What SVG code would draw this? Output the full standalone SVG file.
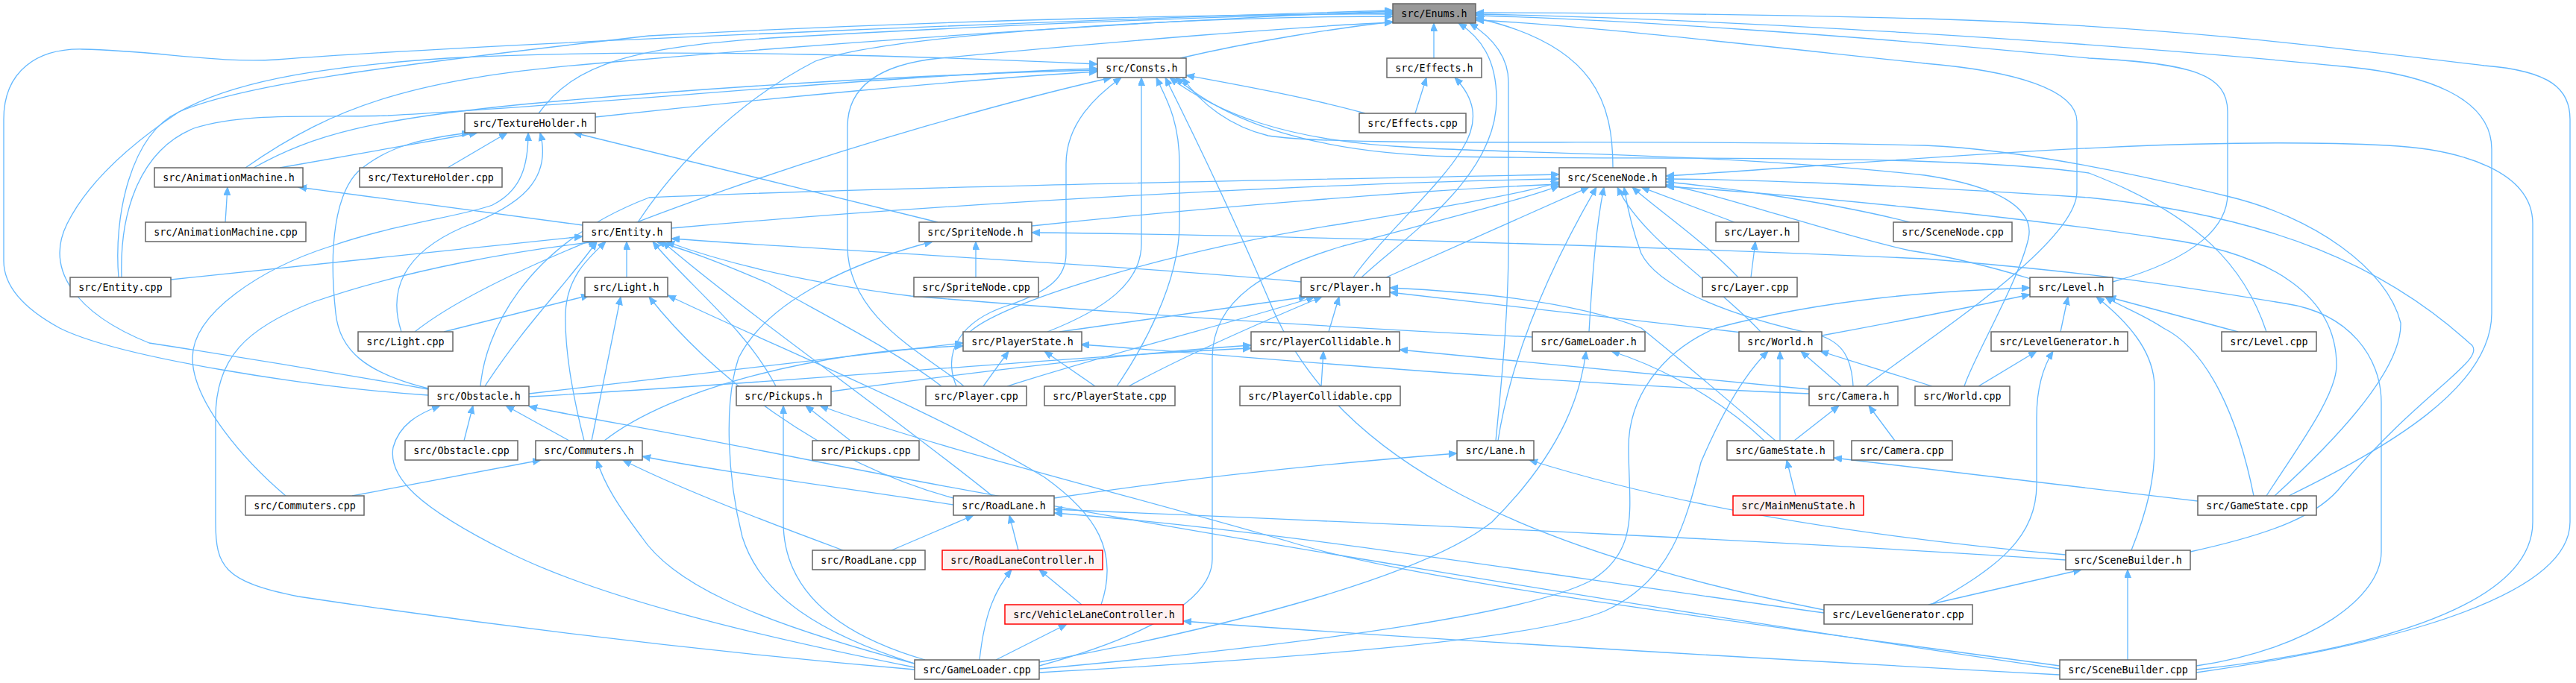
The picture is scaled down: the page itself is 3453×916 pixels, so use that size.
<svg xmlns="http://www.w3.org/2000/svg" width="3453" height="916" viewBox="0 0 3453 916">
<style>
.e path{fill:none;stroke:#63b8ff;stroke-width:1.3;marker-end:url(#ah)}
.n rect{fill:#ffffff;stroke:#666666;stroke-width:1.5}
.n.root rect{fill:#999999;stroke:#666666}
.n.red rect{fill:#fff0f0;stroke:#ff0000}
.n text{font-family:"DejaVu Sans Mono","Liberation Mono",monospace;font-size:13.33px;fill:#000000;text-anchor:middle}
</style>
<defs>
<marker id="ah" markerWidth="12" markerHeight="10" refX="11" refY="4.5" orient="auto" markerUnits="userSpaceOnUse">
<path d="M0,0 L11,4.5 L0,9 z" fill="#63b8ff" stroke="#63b8ff" stroke-width="1"/>
</marker>
</defs>
<rect width="3453" height="916" fill="#ffffff"/>
<g id="edges" class="e">
<path d="M1582,78 C1680,55 1790,38 1867,29"/>
<path d="M1922,78 L1922,31"/>
<path d="M722,152 C770,85 850,62 1050,50 C1400,30 1700,20 1867,17"/>
<path d="M329,225 C450,140 560,105 800,85 C1200,50 1600,25 1867,15"/>
<path d="M159,372 C152,290 175,180 240,150 C320,115 500,90 870,48 C1300,25 1700,18 1867,19"/>
<path d="M163,372 C160,280 190,200 260,172 C330,150 420,158 520,155 C800,140 1200,100 1471,92"/>
<path d="M574,530 C420,520 160,480 80,440 C25,410 5,380 5,350 L5,160 C5,95 50,65 110,66 C210,68 290,85 370,80 C700,55 1500,25 1867,14"/>
<path d="M574,522 C450,500 330,480 200,460 C100,420 60,360 90,300 C120,240 180,190 240,150 C320,105 450,88 600,78 C900,62 1300,78 1471,86"/>
<path d="M855,298 C900,230 980,140 1093,82 C1200,45 1600,22 1867,22"/>
<path d="M1292,518 C1250,480 1136,430 1136,330 L1136,170 C1136,110 1190,85 1260,78 C1500,55 1750,35 1867,30"/>
<path d="M1825,372 C1880,320 2006,240 2006,133 C2006,80 1985,50 1955,31"/>
<path d="M2005,591 C2012,520 2022,420 2022,330 L2022,110 C2022,75 2000,50 1970,31"/>
<path d="M2162,225 C2162,140 2140,60 1978,24"/>
<path d="M2832,378 C2950,345 2986,300 2986,260 L2986,150 C2986,100 2940,85 2800,78 C2500,48 2150,25 1978,21"/>
<path d="M2501,518 C2560,470 2784,330 2784,257 L2784,163 C2784,120 2700,95 2580,85 C2300,55 2100,32 1978,27"/>
<path d="M2944,902 C3100,880 3445,820 3445,700 L3445,160 C3445,120 3420,95 3330,88 C3100,60 2900,35 2580,25 C2300,18 2100,17 1978,17"/>
<path d="M3068,665 C3200,600 3340,520 3340,420 L3340,200 C3340,130 3250,100 3150,90 C2800,55 2300,25 1978,19"/>
<path d="M798,157 C1000,135 1300,106 1471,96"/>
<path d="M340,225 C420,180 500,160 700,140 C1000,112 1300,98 1471,94"/>
<path d="M556,445 C700,330 1200,170 1490,104"/>
<path d="M1404,445 C1480,415 1530,380 1530,327 L1530,104"/>
<path d="M1282,518 C1262,470 1290,430 1350,410 C1410,390 1429,370 1429,340 L1429,220 C1429,165 1470,128 1503,104"/>
<path d="M1497,518 C1530,470 1581,380 1581,300 L1581,220 C1581,160 1562,130 1550,104"/>
<path d="M1830,152 C1750,130 1650,112 1590,101"/>
<path d="M3038,445 C3010,360 2950,290 2800,232 C2600,205 2200,215 1950,210 C1750,205 1640,160 1576,104"/>
<path d="M2633,518 C2645,480 2705,380 2719,320 C2728,280 2680,250 2580,235 C2300,205 2000,205 1900,198 C1720,190 1630,150 1568,104"/>
<path d="M3049,665 C3120,600 3220,500 3218,433 C3200,360 3100,290 2985,263 C2850,230 2700,200 2580,195 C2200,185 1800,198 1700,182 C1650,170 1610,140 1585,104"/>
<path d="M2445,818 C2000,730 1780,600 1700,400 C1640,260 1590,160 1562,104"/>
<path d="M1897,152 L1912,104"/>
<path d="M1814,372 C1850,320 1930,250 1960,200 C1985,160 1975,130 1950,104"/>
<path d="M375,225 L640,178"/>
<path d="M600,225 L680,178"/>
<path d="M1257,298 L769,178"/>
<path d="M538,445 C520,390 540,340 620,305 C700,275 740,240 724,178"/>
<path d="M383,665 C330,620 258,540 258,480 C258,420 350,360 444,330 C530,300 620,290 660,275 C700,255 708,220 708,178"/>
<path d="M574,521 C490,500 455,470 450,420 C440,330 450,260 480,230 C520,195 570,185 630,178"/>
<path d="M302,298 L305,251"/>
<path d="M781,302 L400,251"/>
<path d="M900,306 C1300,270 1800,245 2090,240"/>
<path d="M1383,303 C1600,280 1900,255 2090,247"/>
<path d="M644,518 C650,450 700,330 870,265 C1200,250 1800,240 2090,234"/>
<path d="M1858,372 L2130,251"/>
<path d="M2008,591 C2030,450 2100,320 2140,251"/>
<path d="M2130,445 C2135,360 2140,300 2150,251"/>
<path d="M2360,445 C2300,380 2200,320 2168,251"/>
<path d="M2484,518 C2482,480 2470,460 2440,450 C2300,420 2220,380 2200,340 C2185,300 2180,270 2177,251"/>
<path d="M2325,298 L2200,251"/>
<path d="M2330,372 C2280,320 2220,280 2188,251"/>
<path d="M2347,372 L2353,324"/>
<path d="M2560,298 C2450,270 2300,250 2233,244"/>
<path d="M2722,374 C2650,352 2600,342 2560,336 C2450,312 2300,258 2233,248"/>
<path d="M3038,665 C3080,600 3132,530 3132,490 C3132,400 3050,340 2900,320 C2700,290 2400,260 2233,250"/>
<path d="M2936,740 C3050,715 3110,690 3140,650 C3250,520 3340,480 3310,460 C3200,360 3050,290 2800,265 C2500,245 2300,240 2233,240"/>
<path d="M2944,898 C3150,875 3395,820 3395,700 L3395,300 C3395,230 3300,200 3200,195 C2900,180 2500,220 2233,236"/>
<path d="M1393,893 C1550,850 1625,800 1625,750 L1625,480 C1625,400 1700,360 1800,330 C1950,290 2050,265 2090,249"/>
<path d="M1300,445 C1350,400 1600,330 1800,300 C1950,275 2050,258 2090,244"/>
<path d="M229,375 L781,317"/>
<path d="M840,372 L840,324"/>
<path d="M1744,378 C1500,355 1100,335 900,320"/>
<path d="M650,518 C700,440 760,380 800,324"/>
<path d="M783,591 C765,520 757,460 758,420 C760,370 790,345 812,324"/>
<path d="M1040,518 C1000,440 920,380 875,324"/>
<path d="M1330,665 C1200,560 1000,420 888,324"/>
<path d="M2054,452 C1800,440 1500,420 1221,397 C1050,375 950,345 893,324"/>
<path d="M1262,518 C1200,470 1100,420 1030,380 C960,350 920,335 880,324"/>
<path d="M1226,898 C900,870 600,830 400,800 C300,780 289,760 289,700 L289,560 C289,480 330,440 420,405 C550,360 700,335 800,324"/>
<path d="M595,445 L790,396"/>
<path d="M793,591 L832,398"/>
<path d="M1476,811 C1500,740 1470,690 1400,640 C1250,550 1050,470 895,396"/>
<path d="M1278,668 C1100,620 950,500 870,398"/>
<path d="M1420,445 L1752,398"/>
<path d="M1781,445 L1795,398"/>
<path d="M1350,518 C1500,470 1700,420 1762,398"/>
<path d="M1513,518 C1600,470 1720,420 1772,398"/>
<path d="M2335,446 L1863,392"/>
<path d="M2380,591 C2320,540 2250,480 2200,440 C2100,400 1950,390 1863,386"/>
<path d="M1318,518 L1352,471"/>
<path d="M1468,518 L1400,471"/>
<path d="M709,528 C950,500 1150,475 1291,460"/>
<path d="M810,591 C900,520 1100,470 1291,464"/>
<path d="M2425,528 C2000,510 1700,480 1449,462"/>
<path d="M1771,518 L1774,471"/>
<path d="M709,532 C1100,510 1400,480 1677,467"/>
<path d="M1114,525 C1300,500 1500,475 1677,463"/>
<path d="M2425,522 C2200,500 2000,480 1876,469"/>
<path d="M2365,591 C2300,530 2220,490 2160,471"/>
<path d="M1393,888 C1600,850 1900,780 2000,700 C2100,600 2120,520 2126,471"/>
<path d="M2468,518 L2414,471"/>
<path d="M2386,591 L2386,471"/>
<path d="M2590,518 L2440,471"/>
<path d="M1393,902 C1700,885 2050,860 2150,820 C2240,780 2260,700 2280,620 C2310,550 2340,500 2370,471"/>
<path d="M2442,450 C2550,430 2650,410 2721,395"/>
<path d="M1393,897 C1800,860 2050,820 2130,780 C2200,740 2183,680 2183,600 C2183,530 2230,470 2300,440 C2450,400 2600,390 2721,386"/>
<path d="M2762,445 L2772,398"/>
<path d="M3000,445 L2825,398"/>
<path d="M2857,738 C2880,680 2888,640 2888,600 L2888,520 C2888,470 2850,430 2810,398"/>
<path d="M3021,665 C3000,560 2960,470 2900,440 C2870,420 2840,410 2822,398"/>
<path d="M2652,518 L2730,471"/>
<path d="M2588,811 C2680,760 2730,720 2730,650 L2730,560 C2730,520 2740,490 2752,471"/>
<path d="M2405,591 L2465,544"/>
<path d="M2540,591 L2505,544"/>
<path d="M622,591 L634,544"/>
<path d="M763,591 L678,544"/>
<path d="M1226,895 C1000,850 800,800 680,740 C560,680 520,640 527,600 C535,570 560,555 590,544"/>
<path d="M2761,897 C2300,830 1500,700 1100,620 C900,580 780,560 709,545"/>
<path d="M1140,591 L1080,544"/>
<path d="M1240,885 C1120,850 1050,790 1050,700 L1050,544"/>
<path d="M2761,893 C2300,830 1900,780 1730,727 C1500,660 1250,600 1099,544"/>
<path d="M472,665 L725,617"/>
<path d="M1278,677 C1100,650 950,630 861,612"/>
<path d="M1130,738 C1000,690 900,650 835,617"/>
<path d="M1226,890 C1000,830 900,780 860,720 C830,680 810,650 800,617"/>
<path d="M1413,668 C1600,640 1800,620 1953,608"/>
<path d="M2769,744 C2500,720 2250,680 2050,617"/>
<path d="M2407,665 L2395,617"/>
<path d="M2946,672 C2750,650 2550,625 2458,614"/>
<path d="M1195,738 L1305,691"/>
<path d="M1365,738 L1353,691"/>
<path d="M2769,751 C2300,720 1800,700 1413,683"/>
<path d="M2445,822 C2000,760 1700,710 1413,688"/>
<path d="M1450,811 L1393,764"/>
<path d="M1313,885 C1320,820 1335,790 1356,764"/>
<path d="M1335,885 L1430,837"/>
<path d="M2761,905 C2300,880 1800,850 1586,833"/>
<path d="M2585,811 L2790,764"/>
<path d="M2852,885 L2852,764"/>
<path d="M1308,372 L1308,324"/>
<path d="M1226,890 C1100,850 1020,800 995,720 C975,640 970,540 990,480 C1030,400 1150,350 1250,324"/>
<path d="M2944,893 C3100,870 3192,800 3192,740 L3192,540 C3192,480 3150,420 3063,407 C2900,380 2800,365 2580,347 C2200,330 1700,315 1383,312"/>
</g>
<g id="n_Enums" class="n root"><rect x="1867" y="5" width="111" height="26"/><text x="1922.5" y="22.5">src/Enums.h</text></g>
<g id="n_Consts" class="n"><rect x="1471" y="78" width="119" height="26"/><text x="1530.5" y="95.5">src/Consts.h</text></g>
<g id="n_Effects_h" class="n"><rect x="1859" y="78" width="127" height="26"/><text x="1922.5" y="95.5">src/Effects.h</text></g>
<g id="n_TextureHolder_h" class="n"><rect x="623" y="152" width="175" height="26"/><text x="710.5" y="169.5">src/TextureHolder.h</text></g>
<g id="n_Effects_cpp" class="n"><rect x="1822" y="152" width="143" height="26"/><text x="1893.5" y="169.5">src/Effects.cpp</text></g>
<g id="n_AnimationMachine_h" class="n"><rect x="207" y="225" width="199" height="26"/><text x="306.5" y="242.5">src/AnimationMachine.h</text></g>
<g id="n_TextureHolder_cpp" class="n"><rect x="482" y="225" width="191" height="26"/><text x="577.5" y="242.5">src/TextureHolder.cpp</text></g>
<g id="n_SceneNode_h" class="n"><rect x="2090" y="225" width="143" height="26"/><text x="2161.5" y="242.5">src/SceneNode.h</text></g>
<g id="n_AnimationMachine_cpp" class="n"><rect x="195" y="298" width="215" height="26"/><text x="302.5" y="315.5">src/AnimationMachine.cpp</text></g>
<g id="n_Entity_h" class="n"><rect x="781" y="298" width="119" height="26"/><text x="840.5" y="315.5">src/Entity.h</text></g>
<g id="n_SpriteNode_h" class="n"><rect x="1232" y="298" width="151" height="26"/><text x="1307.5" y="315.5">src/SpriteNode.h</text></g>
<g id="n_Layer_h" class="n"><rect x="2300" y="298" width="111" height="26"/><text x="2355.5" y="315.5">src/Layer.h</text></g>
<g id="n_SceneNode_cpp" class="n"><rect x="2538" y="298" width="159" height="26"/><text x="2617.5" y="315.5">src/SceneNode.cpp</text></g>
<g id="n_Entity_cpp" class="n"><rect x="94" y="372" width="135" height="26"/><text x="161.5" y="389.5">src/Entity.cpp</text></g>
<g id="n_Light_h" class="n"><rect x="784" y="372" width="111" height="26"/><text x="839.5" y="389.5">src/Light.h</text></g>
<g id="n_SpriteNode_cpp" class="n"><rect x="1225" y="372" width="167" height="26"/><text x="1308.5" y="389.5">src/SpriteNode.cpp</text></g>
<g id="n_Player_h" class="n"><rect x="1744" y="372" width="119" height="26"/><text x="1803.5" y="389.5">src/Player.h</text></g>
<g id="n_Layer_cpp" class="n"><rect x="2282" y="372" width="127" height="26"/><text x="2345.5" y="389.5">src/Layer.cpp</text></g>
<g id="n_Level_h" class="n"><rect x="2721" y="372" width="111" height="26"/><text x="2776.5" y="389.5">src/Level.h</text></g>
<g id="n_Light_cpp" class="n"><rect x="480" y="445" width="127" height="26"/><text x="543.5" y="462.5">src/Light.cpp</text></g>
<g id="n_PlayerState_h" class="n"><rect x="1291" y="445" width="159" height="26"/><text x="1370.5" y="462.5">src/PlayerState.h</text></g>
<g id="n_PlayerCollidable_h" class="n"><rect x="1677" y="445" width="199" height="26"/><text x="1776.5" y="462.5">src/PlayerCollidable.h</text></g>
<g id="n_GameLoader_h" class="n"><rect x="2054" y="445" width="151" height="26"/><text x="2129.5" y="462.5">src/GameLoader.h</text></g>
<g id="n_World_h" class="n"><rect x="2331" y="445" width="111" height="26"/><text x="2386.5" y="462.5">src/World.h</text></g>
<g id="n_LevelGenerator_h" class="n"><rect x="2669" y="445" width="183" height="26"/><text x="2760.5" y="462.5">src/LevelGenerator.h</text></g>
<g id="n_Level_cpp" class="n"><rect x="2978" y="445" width="127" height="26"/><text x="3041.5" y="462.5">src/Level.cpp</text></g>
<g id="n_Obstacle_h" class="n"><rect x="574" y="518" width="135" height="26"/><text x="641.5" y="535.5">src/Obstacle.h</text></g>
<g id="n_Pickups_h" class="n"><rect x="987" y="518" width="127" height="26"/><text x="1050.5" y="535.5">src/Pickups.h</text></g>
<g id="n_Player_cpp" class="n"><rect x="1241" y="518" width="135" height="26"/><text x="1308.5" y="535.5">src/Player.cpp</text></g>
<g id="n_PlayerState_cpp" class="n"><rect x="1400" y="518" width="175" height="26"/><text x="1487.5" y="535.5">src/PlayerState.cpp</text></g>
<g id="n_PlayerCollidable_cpp" class="n"><rect x="1662" y="518" width="215" height="26"/><text x="1769.5" y="535.5">src/PlayerCollidable.cpp</text></g>
<g id="n_Camera_h" class="n"><rect x="2425" y="518" width="119" height="26"/><text x="2484.5" y="535.5">src/Camera.h</text></g>
<g id="n_World_cpp" class="n"><rect x="2567" y="518" width="127" height="26"/><text x="2630.5" y="535.5">src/World.cpp</text></g>
<g id="n_Obstacle_cpp" class="n"><rect x="543" y="591" width="151" height="26"/><text x="618.5" y="608.5">src/Obstacle.cpp</text></g>
<g id="n_Commuters_h" class="n"><rect x="718" y="591" width="143" height="26"/><text x="789.5" y="608.5">src/Commuters.h</text></g>
<g id="n_Pickups_cpp" class="n"><rect x="1089" y="591" width="143" height="26"/><text x="1160.5" y="608.5">src/Pickups.cpp</text></g>
<g id="n_Lane_h" class="n"><rect x="1953" y="591" width="103" height="26"/><text x="2004.5" y="608.5">src/Lane.h</text></g>
<g id="n_GameState_h" class="n"><rect x="2315" y="591" width="143" height="26"/><text x="2386.5" y="608.5">src/GameState.h</text></g>
<g id="n_Camera_cpp" class="n"><rect x="2482" y="591" width="135" height="26"/><text x="2549.5" y="608.5">src/Camera.cpp</text></g>
<g id="n_Commuters_cpp" class="n"><rect x="329" y="665" width="159" height="26"/><text x="408.5" y="682.5">src/Commuters.cpp</text></g>
<g id="n_RoadLane_h" class="n"><rect x="1278" y="665" width="135" height="26"/><text x="1345.5" y="682.5">src/RoadLane.h</text></g>
<g id="n_MainMenuState_h" class="n red"><rect x="2323" y="665" width="175" height="26"/><text x="2410.5" y="682.5">src/MainMenuState.h</text></g>
<g id="n_GameState_cpp" class="n"><rect x="2946" y="665" width="159" height="26"/><text x="3025.5" y="682.5">src/GameState.cpp</text></g>
<g id="n_RoadLane_cpp" class="n"><rect x="1089" y="738" width="151" height="26"/><text x="1164.5" y="755.5">src/RoadLane.cpp</text></g>
<g id="n_RoadLaneController_h" class="n red"><rect x="1263" y="738" width="215" height="26"/><text x="1370.5" y="755.5">src/RoadLaneController.h</text></g>
<g id="n_SceneBuilder_h" class="n"><rect x="2769" y="738" width="167" height="26"/><text x="2852.5" y="755.5">src/SceneBuilder.h</text></g>
<g id="n_VehicleLaneController_h" class="n red"><rect x="1347" y="811" width="239" height="26"/><text x="1466.5" y="828.5">src/VehicleLaneController.h</text></g>
<g id="n_LevelGenerator_cpp" class="n"><rect x="2445" y="811" width="199" height="26"/><text x="2544.5" y="828.5">src/LevelGenerator.cpp</text></g>
<g id="n_GameLoader_cpp" class="n"><rect x="1226" y="885" width="167" height="26"/><text x="1309.5" y="902.5">src/GameLoader.cpp</text></g>
<g id="n_SceneBuilder_cpp" class="n"><rect x="2761" y="885" width="183" height="26"/><text x="2852.5" y="902.5">src/SceneBuilder.cpp</text></g>
</svg>
